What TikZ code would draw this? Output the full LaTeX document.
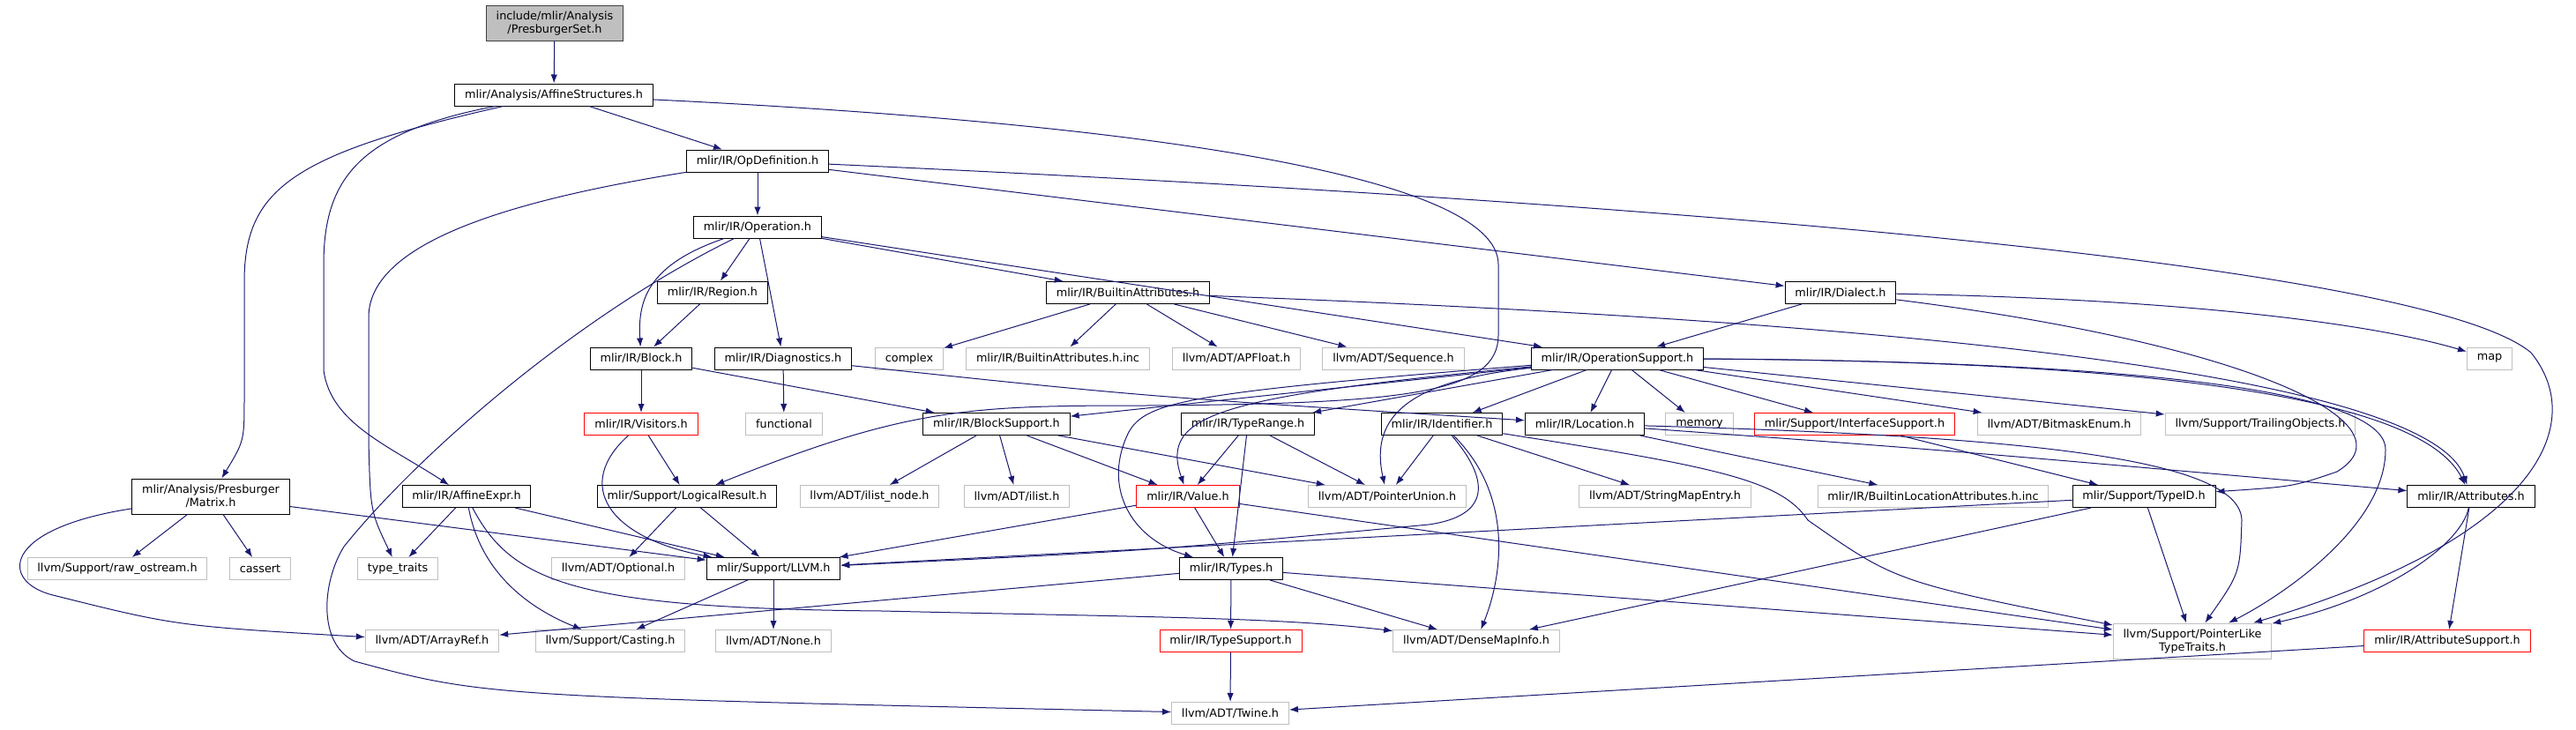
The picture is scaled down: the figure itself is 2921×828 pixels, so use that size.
\documentclass[tikz,border=0pt]{standalone}
\usepackage{fontspec}
\setmainfont{DejaVu Sans}
\usetikzlibrary{arrows.meta}

\definecolor{edgeblue}{RGB}{25,25,112}
\definecolor{extgray}{RGB}{191,191,191}
\definecolor{truncred}{RGB}{255,0,0}
\definecolor{rootfill}{RGB}{191,191,191}

\tikzset{
  hdr/.style={draw={rgb,255:red,0;green,0;blue,0}, fill=white, line width=0.75pt,
    font=\fontsize{9.6}{11.25}\selectfont, inner xsep=8.5pt, inner ysep=0pt,
    minimum height=18.75pt, align=center},
  ext/.style={hdr, draw=extgray},
  trunc/.style={hdr, draw=truncred},
  root/.style={hdr, fill=rootfill, draw={rgb,255:red,64;green,64;blue,64}, minimum height=30pt},
  dep/.style={draw=edgeblue, line width=0.75pt, -{Latex[length=7.5pt,width=5.5pt]}},
}

\begin{document}
\begin{tikzpicture}[x=0.75pt,y=0.75pt,yscale=-1,xscale=1]
\useasboundingbox (0,0) rectangle (2921,828);

% Header nodes
\node[root] (root) at (629,26) {include/mlir/Analysis\\/PresburgerSet.h};
\node[hdr] (affstr) at (628,107.5) {mlir/Analysis/AffineStructures.h};
\node[hdr] (opdef) at (859,182.5) {mlir/IR/OpDefinition.h};
\node[hdr] (oper) at (859,257.5) {mlir/IR/Operation.h};
\node[hdr] (region) at (808,331.5) {mlir/IR/Region.h};
\node[hdr] (battr) at (1279,332) {mlir/IR/BuiltinAttributes.h};
\node[hdr] (dialect) at (2087,332) {mlir/IR/Dialect.h};
\node[hdr] (block) at (727,406.5) {mlir/IR/Block.h};
\node[hdr] (diag) at (888,406.5) {mlir/IR/Diagnostics.h};
\node[ext] (cplx) at (1031,406.5) {complex};
\node[ext] (battrinc) at (1199.5,406.5) {mlir/IR/BuiltinAttributes.h.inc};
\node[ext] (apfloat) at (1402,406.5) {llvm/ADT/APFloat.h};
\node[ext] (seq) at (1580,406.5) {llvm/ADT/Sequence.h};
\node[hdr] (opsupp) at (1834,406.5) {mlir/IR/OperationSupport.h};
\node[ext] (map) at (2823,406.5) {map};
\node[trunc] (visit) at (727,481) {mlir/IR/Visitors.h};
\node[ext] (func) at (889,481) {functional};
\node[hdr] (blksupp) at (1130,481) {mlir/IR/BlockSupport.h};
\node[hdr] (trange) at (1415,481) {mlir/IR/TypeRange.h};
\node[hdr] (ident) at (1635,481) {mlir/IR/Identifier.h};
\node[hdr] (loc) at (1797,481) {mlir/IR/Location.h};
\node[ext] (memory) at (1927,481) {memory};
\node[trunc] (ifsupp) at (2103,481) {mlir/Support/InterfaceSupport.h};
\node[ext] (bitmask) at (2335,481) {llvm/ADT/BitmaskEnum.h};
\node[ext] (trail) at (2563,481) {llvm/Support/TrailingObjects.h};
\node[hdr, minimum height=30pt] (matrix) at (239,563) {mlir/Analysis/Presburger\\/Matrix.h};
\node[hdr] (affexpr) at (529,563) {mlir/IR/AffineExpr.h};
\node[hdr] (logres) at (779,563) {mlir/Support/LogicalResult.h};
\node[ext] (ilistnode) at (986,563) {llvm/ADT/ilist\_node.h};
\node[ext] (ilist) at (1153,563) {llvm/ADT/ilist.h};
\node[trunc] (value) at (1347,563) {mlir/IR/Value.h};
\node[ext] (punion) at (1573,563) {llvm/ADT/PointerUnion.h};
\node[ext] (smentry) at (1888,563) {llvm/ADT/StringMapEntry.h};
\node[ext] (blocinc) at (2192,563) {mlir/IR/BuiltinLocationAttributes.h.inc};
\node[hdr] (typeid) at (2431,563) {mlir/Support/TypeID.h};
\node[hdr] (attrs) at (2802,563) {mlir/IR/Attributes.h};
\node[ext] (rawos) at (133,645) {llvm/Support/raw\_ostream.h};
\node[ext] (cassert) at (295,645) {cassert};
\node[ext] (ttraits) at (451,645) {type\_traits};
\node[ext] (optional) at (701,645) {llvm/ADT/Optional.h};
\node[hdr] (llvm) at (877,645) {mlir/Support/LLVM.h};
\node[hdr] (types) at (1396,645) {mlir/IR/Types.h};
\node[ext] (arrayref) at (490,727) {llvm/ADT/ArrayRef.h};
\node[ext] (casting) at (692,727) {llvm/Support/Casting.h};
\node[ext] (none) at (877,727) {llvm/ADT/None.h};
\node[trunc] (tsupp) at (1395.5,727) {mlir/IR/TypeSupport.h};
\node[ext] (dmi) at (1674,727) {llvm/ADT/DenseMapInfo.h};
\node[ext, minimum height=30pt] (pltt) at (2486,727) {llvm/Support/PointerLike\\TypeTraits.h};
\node[trunc] (attrsupp) at (2775,727) {mlir/IR/AttributeSupport.h};
\node[ext] (twine) at (1395,809) {llvm/ADT/Twine.h};

% Straight include edges
\foreach \a/\b in {root/affstr, affstr/opdef, opdef/oper, oper/region, oper/diag,
  region/block, block/visit, diag/func, visit/logres, logres/optional, logres/llvm,
  matrix/rawos, matrix/cassert, matrix/llvm, affexpr/ttraits, affexpr/llvm,
  llvm/casting, llvm/none, battr/cplx, battr/battrinc, battr/apfloat, battr/seq,
  oper/battr, oper/opsupp, opdef/dialect, dialect/opsupp, block/blksupp,
  blksupp/ilistnode, blksupp/ilist, blksupp/value, blksupp/punion,
  trange/value, trange/punion, trange/types, value/types, value/llvm, value/pltt,
  types/tsupp, types/dmi, types/arrayref, types/pltt, tsupp/twine,
  opsupp/blksupp, opsupp/trange, opsupp/ident, opsupp/loc, opsupp/memory,
  opsupp/ifsupp, opsupp/bitmask, opsupp/trail, ident/punion, ident/smentry,
  loc/blocinc, ifsupp/typeid, typeid/pltt, typeid/llvm, typeid/dmi,
  attrs/attrsupp, attrsupp/twine}
  \draw[dep] (\a) -- (\b);

% Curved include edges
\draw[dep] (affstr) .. controls (330,175) and (277,215) .. (277,320) -- (277,450) .. controls (277,500) .. (matrix);
\draw[dep] (affstr) .. controls (410,150) and (367,200) .. (367,300) -- (367,420) .. controls (375,480) and (440,505) .. (affexpr);
\draw[dep] (affstr) .. controls (1300,140) and (1699,200) .. (1699,300) -- (1699,380) .. controls (1699,445) and (1600,458) .. (1300,460) .. controls (1100,460) and (1030,462) .. (logres);
\draw[dep] (opdef) .. controls (560,230) and (418,280) .. (418,360) -- (418,500) .. controls (420,580) .. (ttraits);
\draw[dep] (opdef) .. controls (1900,230) and (2750,300) .. (2870,400) .. controls (2935,480) and (2880,610) .. (pltt);
\draw[dep] (oper) .. controls (735,300) and (723,340) .. (block);
\draw[dep] (oper) .. controls (650,360) and (470,520) .. (390,620) .. controls (365,660) and (360,730) .. (402,750) .. controls (550,790) .. (twine);
\draw[dep] (diag) .. controls (1300,450) .. (loc);
\draw[dep] (dialect) .. controls (2500,340) and (2700,370) .. (map);
\draw[dep] (dialect) .. controls (2550,390) and (2740,480) .. (2650,535) .. controls (2600,552) .. (typeid);
\draw[dep] (battr) .. controls (2300,370) and (2760,440) .. (attrs);
\draw[dep] (opsupp) .. controls (2500,410) and (2750,460) .. (attrs);
\draw[dep] (opsupp) .. controls (2400,410) and (2705,440) .. (2705,510) .. controls (2705,600) and (2580,680) .. (pltt);
\draw[dep] (opsupp) .. controls (1620,430) and (1550,460) .. (punion);
\draw[dep] (opsupp) .. controls (1380,450) and (1315,470) .. (value);
\draw[dep] (opsupp) .. controls (1350,445) and (1300,455) .. (1280,490) .. controls (1250,550) and (1280,610) .. (types);
\draw[dep] (visit) .. controls (650,550) and (690,610) .. (llvm);
\draw[dep] (matrix) .. controls (0,600) and (0,660) .. (60,675) .. controls (200,710) .. (arrayref);
\draw[dep] (affexpr) .. controls (545,650) and (600,690) .. (casting);
\draw[dep] (affexpr) .. controls (580,660) and (650,690) .. (1000,693) .. controls (1300,700) and (1450,700) .. (dmi);
\draw[dep] (ident) .. controls (1690,545) and (1690,585) .. (1620,595) .. controls (1300,625) .. (llvm);
\draw[dep] (ident) .. controls (1715,560) and (1705,650) .. (dmi);
\draw[dep] (ident) .. controls (1950,530) and (2020,545) .. (2050,590) .. controls (2150,660) .. (pltt);
\draw[dep] (loc) .. controls (2300,495) and (2540,520) .. (2542,590) .. controls (2540,650) .. (pltt);
\draw[dep] (loc) .. controls (2200,510) .. (attrs);
\draw[dep] (attrs) .. controls (2790,620) and (2700,680) .. (pltt);

\end{tikzpicture}
\end{document}
